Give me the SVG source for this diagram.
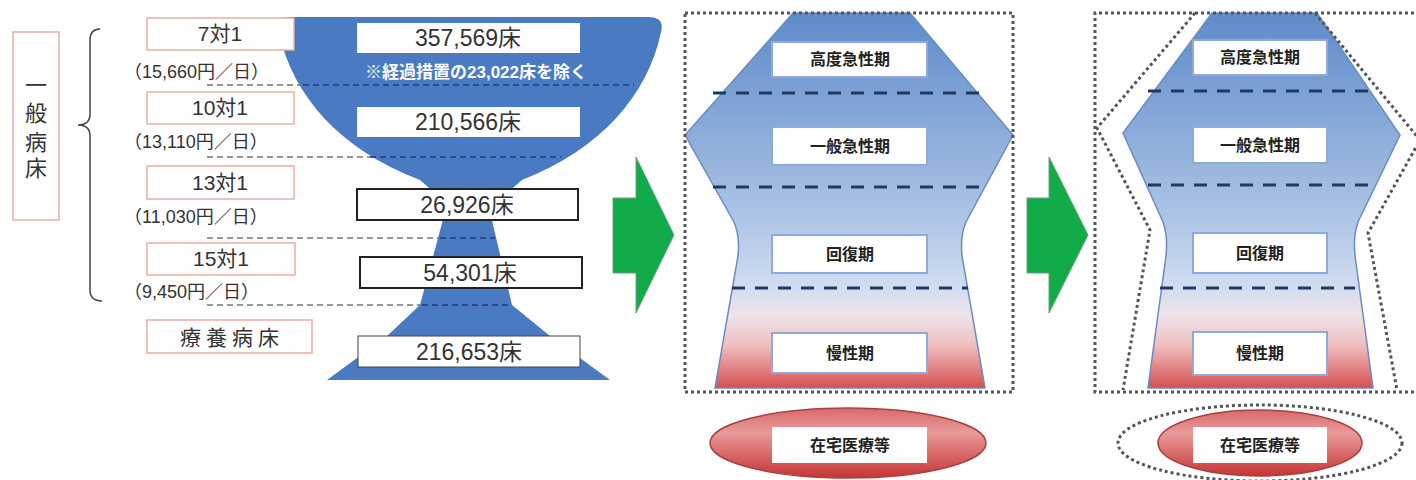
<svg xmlns="http://www.w3.org/2000/svg" width="1416" height="480" viewBox="0 0 1416 480">
<defs>
<linearGradient id="flask" gradientUnits="userSpaceOnUse" x1="0" y1="13" x2="0" y2="390">
<stop offset="0" stop-color="#5e8bca"/>
<stop offset="0.5" stop-color="#a6bfe3"/>
<stop offset="0.72" stop-color="#cfdcf0"/>
<stop offset="0.8" stop-color="#eee4ea"/>
<stop offset="0.88" stop-color="#f0c0c0"/>
<stop offset="1" stop-color="#d44a4a"/>
</linearGradient>
<linearGradient id="red" x1="0" y1="0" x2="0" y2="1">
<stop offset="0" stop-color="#d96a6a"/>
<stop offset="0.35" stop-color="#e99a9a"/>
<stop offset="1" stop-color="#c73434"/>
</linearGradient>
<style>
.t{font-family:"Liberation Sans","Noto Sans CJK JP",sans-serif;fill:#333;}
.lbox{fill:#fff;stroke:#e8b0a2;stroke-width:1.5;}
.num{font-size:23px;text-anchor:middle;}
.rate{font-size:21px;text-anchor:middle;}
.yen{font-size:18px;}
.gdash{stroke:#777;stroke-width:1.5;stroke-dasharray:6 4;fill:none;}
.ndash{stroke:#1f3d7a;stroke-width:1.5;stroke-dasharray:6 4;fill:none;}
.bdash{stroke:#1f3864;stroke-width:3;stroke-dasharray:13 10;fill:none;}
.dot{stroke:#555;stroke-width:3;stroke-dasharray:3 3;fill:none;}
.phase{fill:#fff;stroke:#8eaadb;stroke-width:2;}
.pt{font-family:"Noto Sans CJK JP",sans-serif;font-size:16px;font-weight:bold;fill:#222;text-anchor:middle;}
.flask{fill:url(#flask);stroke:#6a8cc0;stroke-width:1.5;}
.arrow{fill:#12ab4a;stroke:#6aa080;stroke-width:1;}
.ell{fill:url(#red);stroke:#a84040;stroke-width:1.5;}
</style>
</defs>

<!-- left labels -->
<g id="general-beds">
<rect x="13" y="32" width="46" height="188" class="lbox"/>
<text class="t" font-size="22" text-anchor="middle"><tspan x="36" y="93">一</tspan><tspan x="36" y="121">般</tspan><tspan x="36" y="150">病</tspan><tspan x="36" y="176">床</tspan></text>
</g>
<g id="brace">
<path d="M100,29 Q90,29 90,40 L90,114 Q90,125 78,125 Q90,125 90,136 L90,290 Q90,301 102,301" fill="none" stroke="#444" stroke-width="1.5"/>
</g>

<g id="connectors">
<line x1="207" y1="85" x2="310" y2="85" class="gdash"/>
<line x1="207" y1="157" x2="375" y2="157" class="gdash"/>
<line x1="207" y1="238" x2="440" y2="238" class="gdash"/>
<line x1="207" y1="305" x2="422" y2="305" class="gdash"/>
</g>

<!-- funnel -->
<g id="funnel">
<path d="M290,17 H648 Q665,17 661,32 C648,95 600,150 522,180 L506,194 H436 L420,180 C340,150 292,95 279,32 Q275,17 290,17 Z" fill="#4a7bc2"/>
<polygon points="445,212 490,212 512,305 550,336 610,380 327,380 387,336 420,305" fill="#4a7bc2"/>
<line x1="303" y1="85" x2="634" y2="85" class="ndash"/>
<line x1="370" y1="157" x2="561" y2="157" class="ndash"/>
<line x1="440" y1="238" x2="495" y2="238" class="ndash"/>
<line x1="422" y1="305" x2="512" y2="305" class="ndash"/>
</g>

<g id="r7">
<rect x="147" y="18" width="147" height="32" class="lbox"/>
<text x="220" y="41" class="t rate">7対1</text>
<text x="124" y="78" class="t yen">（15,660円／日）</text>
</g>
<g id="r10">
<rect x="147" y="92" width="147" height="32" class="lbox"/>
<text x="220" y="115" class="t rate">10対1</text>
<text x="124" y="148" class="t yen">（13,110円／日）</text>
</g>
<g id="r13">
<rect x="147" y="166" width="147" height="33" class="lbox"/>
<text x="220" y="190" class="t rate">13対1</text>
<text x="124" y="223" class="t yen">（11,030円／日）</text>
</g>
<g id="r15">
<rect x="147" y="243" width="148" height="32" class="lbox"/>
<text x="221" y="266" class="t rate">15対1</text>
<text x="124" y="298" class="t yen">（9,450円／日）</text>
</g>
<g id="ryoyo">
<rect x="147" y="320" width="165" height="33" class="lbox"/>
<text x="232" y="345" class="t rate" letter-spacing="5">療養病床</text>
</g>

<g id="n357">
<rect x="357" y="23" width="223" height="30" fill="#fff"/>
<text x="468" y="46" class="t num">357,569床</text>
<text x="476" y="78" class="t" font-size="17" font-weight="bold" text-anchor="middle" style="fill:#fff">※経過措置の23,022床を除く</text>
</g>
<g id="n210">
<rect x="357" y="107" width="223" height="30" fill="#fff"/>
<text x="468" y="130" class="t num">210,566床</text>
</g>
<g id="n26">
<rect x="357" y="189" width="221" height="31" fill="#fff" stroke="#222" stroke-width="2"/>
<text x="467" y="213" class="t num">26,926床</text>
</g>
<g id="n54">
<rect x="360" y="257" width="222" height="31" fill="#fff" stroke="#222" stroke-width="2"/>
<text x="470" y="281" class="t num">54,301床</text>
</g>
<g id="n216">
<rect x="358" y="336" width="222" height="31" fill="#fff" stroke="#444" stroke-width="1"/>
<text x="469" y="360" class="t num">216,653床</text>
</g>

<!-- arrows -->
<g id="arrow1"><polygon points="613,198 636,198 636,157 674,235 636,313 636,273 613,273" class="arrow"/></g>
<g id="arrow2"><polygon points="1027,198 1049,198 1049,157 1088,235 1049,313 1049,273 1027,273" class="arrow"/></g>

<!-- middle panel -->
<g id="panel-middle">
<path d="M793,13 H910 L1013,135 L966,222 Q960,236 962,256 L985,388 H715 L738,256 Q740,236 734,222 L685,135 Z" class="flask"/>
<rect x="685" y="13" width="328" height="379" class="dot"/>
<line x1="713" y1="93" x2="985" y2="93" class="bdash"/>
<line x1="713" y1="187" x2="985" y2="187" class="bdash"/>
<line x1="732" y1="288" x2="968" y2="288" class="bdash"/>
</g>
<g id="m1"><rect x="772" y="42" width="155" height="35" class="phase"/><text x="850" y="65" class="pt">高度急性期</text></g>
<g id="m2"><rect x="772" y="127" width="155" height="38" class="phase"/><text x="850" y="152" class="pt">一般急性期</text></g>
<g id="m3"><rect x="772" y="235" width="155" height="38" class="phase"/><text x="850" y="260" class="pt">回復期</text></g>
<g id="m4"><rect x="772" y="333" width="155" height="40" class="phase"/><text x="850" y="359" class="pt">慢性期</text></g>
<g id="m5">
<ellipse cx="848" cy="443" rx="138" ry="35" class="ell"/>
<rect x="772" y="427" width="155" height="36" fill="#fff"/>
<text x="850" y="451" class="pt">在宅医療等</text>
</g>

<!-- right panel -->
<g id="panel-right">
<path d="M1212,13 H1317 L1400,135 L1358,222 Q1353,236 1355,256 L1373,388 H1148 L1166,256 Q1168,236 1163,222 L1123,133 Z" class="flask"/>
<path d="M1420,13 H1095 V392 H1420" class="dot"/>
<path d="M1195,13 L1097,128 L1150,230 L1123,390" class="dot"/>
<path d="M1315,13 L1420,140 L1368,233 L1397,390" class="dot"/>
<line x1="1148" y1="91" x2="1370" y2="91" class="bdash"/>
<line x1="1148" y1="185" x2="1370" y2="185" class="bdash"/>
<line x1="1160" y1="288" x2="1355" y2="288" class="bdash"/>
</g>
<g id="r1"><rect x="1193" y="40" width="134" height="35" class="phase"/><text x="1260" y="63" class="pt">高度急性期</text></g>
<g id="r2"><rect x="1193" y="127" width="134" height="36" class="phase"/><text x="1260" y="151" class="pt">一般急性期</text></g>
<g id="r3"><rect x="1193" y="233" width="134" height="40" class="phase"/><text x="1260" y="259" class="pt">回復期</text></g>
<g id="r4"><rect x="1193" y="332" width="134" height="43" class="phase"/><text x="1260" y="359" class="pt">慢性期</text></g>
<g id="r5">
<ellipse cx="1260" cy="443" rx="142" ry="38" class="dot"/>
<ellipse cx="1260" cy="443" rx="102" ry="33" class="ell"/>
<rect x="1193" y="427" width="134" height="36" fill="#fff"/>
<text x="1260" y="451" class="pt">在宅医療等</text>
</g>
</svg>
